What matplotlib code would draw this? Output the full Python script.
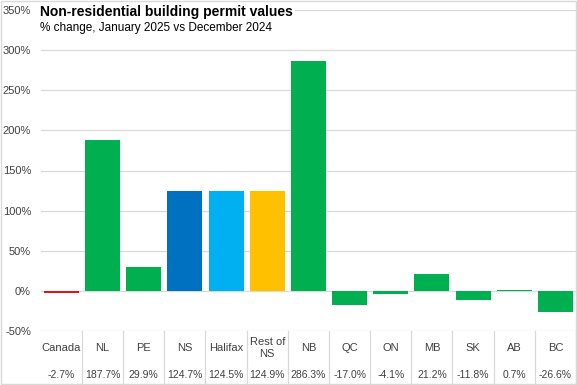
import numpy as np
import matplotlib
matplotlib.use("Agg")
import matplotlib.pyplot as plt
from matplotlib import font_manager
from matplotlib.ticker import FuncFormatter, MultipleLocator
from matplotlib.patches import Rectangle

installed = set(f.name for f in font_manager.fontManager.ttflist)
narrow = 'Liberation Sans Narrow' in installed
if narrow:
    plt.rcParams['font.family'] = ['Liberation Sans Narrow', 'DejaVu Sans']
    tick_size, tbl_size = 8.5, 8.2
else:
    plt.rcParams['font.family'] = ['Liberation Sans', 'DejaVu Sans']
    tick_size, tbl_size = 8, 7.5

categories = ["Canada", "NL", "PE", "NS", "Halifax", "Rest of\nNS", "NB",
              "QC", "ON", "MB", "SK", "AB", "BC"]
values = [-2.7, 187.7, 29.9, 124.7, 124.5, 124.9, 286.3,
          -17.0, -4.1, 21.2, -11.8, 0.7, -26.6]
value_labels = ["-2.7%", "187.7%", "29.9%", "124.7%", "124.5%", "124.9%", "286.3%",
                "-17.0%", "-4.1%", "21.2%", "-11.8%", "0.7%", "-26.6%"]

green = "#00B050"
colors = ["#E3121B", green, green, "#0070C0", "#00B0F0", "#FFC000", green,
          green, green, green, green, green, green]

title = "Non-residential building permit values"
subtitle = "% change, January 2025 vs December 2024"

W, H = 577, 385
fig = plt.figure(figsize=(W / 100, H / 100), dpi=100)
ax = fig.add_axes([40.8 / W, (H - 331) / H, (576 - 40.8) / W, 321 / H])

x = np.arange(len(categories))
ax.bar(x, values, width=0.85, color=colors, zorder=3)

ax.set_xlim(-0.5, len(categories) - 0.5)
ax.set_ylim(-50, 350)
ax.yaxis.set_major_locator(MultipleLocator(50))
ax.yaxis.set_major_formatter(FuncFormatter(lambda v, p: f"{v:.0f}%"))
ax.grid(axis='y', color='#D9D9D9', linewidth=0.9, zorder=0)
ax.set_xticks([])
ax.tick_params(axis='y', length=0, pad=7, labelsize=tick_size, labelcolor='#404040')
for s in ax.spines.values():
    s.set_visible(False)

# table under the plot
trans = ax.get_xaxis_transform()
tbl_h = 52 / 321
for i in range(len(categories)):
    ax.text(x[i], -17 / 321, categories[i], transform=trans, ha='center', va='center',
            fontsize=tick_size, color='#404040', linespacing=1.3)
    ax.text(x[i], -44 / 321, value_labels[i], transform=trans, ha='center', va='center',
            fontsize=tbl_size, color='#404040')
    ax.plot([x[i] + 0.5, x[i] + 0.5], [0, -tbl_h], transform=trans, color='#D9D9D9',
            linewidth=0.9, clip_on=False)

# title box hides the top gridline like in the original
fig.text(40 / W, 1 - 12 / H, title, fontsize=10, fontweight='bold', va='center', ha='left',
         family=['Liberation Sans', 'DejaVu Sans'],
         bbox=dict(facecolor='white', edgecolor='none', pad=1.5))
fig.text(40 / W, 1 - 28 / H, subtitle, fontsize=8.5, va='center', ha='left',
         family=['Liberation Sans', 'DejaVu Sans'])

fig.patches.append(Rectangle((0.5 / W, 1.5 / H), (W - 1.5) / W, (H - 2.5) / H, transform=fig.transFigure,
                             fill=False, edgecolor='#D9D9D9', linewidth=1))

fig.savefig("out.png", dpi=100)
